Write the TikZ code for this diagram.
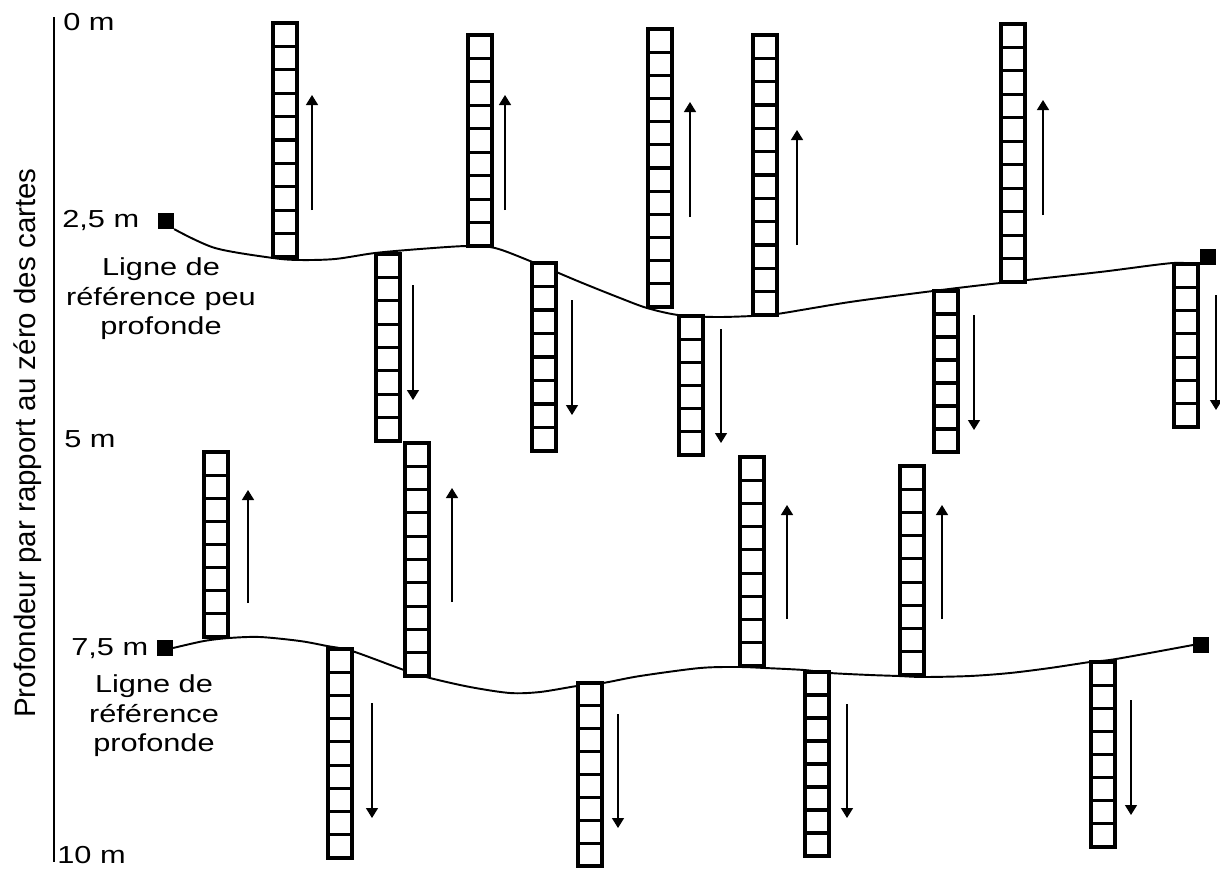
\documentclass[tikz,border=0pt]{standalone}
\usepackage{fontspec}
\usepackage{graphicx}
\setmainfont{Liberation Sans}
\usetikzlibrary{arrows.meta}
\newcommand{\wide}[1]{\scalebox{1.25}[1]{#1}}

\begin{document}
\begin{tikzpicture}[
  x=0.02cm, y=-0.02cm,
  lbl/.style      ={font=\fontsize{14pt}{16.8pt}\selectfont, inner sep=0pt},
  note/.style     ={lbl, align=center},
  endpt/.style    ={fill=black, inner sep=0pt, minimum size=0.31cm},
  refline/.style  ={line width=1.1pt},
  ladderbox/.style={line width=1.8pt, fill=white},
  rung/.style     ={line width=1.8pt},
  flow/.style     ={-{Triangle[length=2mm, width=2.4mm]}, line width=0.8pt}]

\useasboundingbox (0,0) rectangle (1220,869);

\draw[line width=1.3pt] (54,17) -- (54,862);
\node[rotate=90, anchor=base, inner sep=0pt,
      font=\fontsize{16.8pt}{20pt}\selectfont] (axis) at (35,443)
  {Profondeur par rapport au zéro des cartes};

\node[lbl, anchor=base west] (d0)  at (63,30)  {\wide{0 m}};
\node[lbl, anchor=base west] (d25) at (62,227) {\wide{2,5 m}};
\node[lbl, anchor=base west] (d5)  at (64,447) {\wide{5 m}};
\node[lbl, anchor=base west] (d75) at (71,655) {\wide{7,5 m}};
\node[lbl, anchor=base west] (d10) at (57,863) {\wide{10 m}};

\node[note] (shallow) at (161,299)
  {\wide{Ligne de}\\\wide{référence peu}\\\wide{profonde}};
\node[note] (deep)    at (154,716)
  {\wide{Ligne de}\\\wide{référence}\\\wide{profonde}};

\node[endpt] (sA) at (166,221) {};
\node[endpt] (sB) at (1208,257) {};
\node[endpt] (dA) at (165,648) {};
\node[endpt] (dB) at (1201,645) {};

\draw[refline] plot[smooth] coordinates {(sA.south east) (215,248)
  (273,258) (300,260) (335,259) (375,253) (420,249) (467,246) (495,248)
  (530,261) (580,282) (620,298) (647,308) (678,315) (715,317) (752,316)
  (777,314) (850,302) (933,291) (1000,283) (1100,272) (1173,263) (sB.south west)};
\draw[refline] plot[smooth] coordinates {(dA.east) (204,641) (229,638)
  (260,637) (300,641) (327,646) (352,651) (404,670) (430,678) (470,687)
  (510,693) (540,692) (577,686) (603,683) (640,676) (700,668) (739,667)
  (765,668) (804,670) (830,673) (870,675) (899,676) (924,677) (970,676)
  (1010,673) (1050,668) (1090,662) (1116,659) (dB.west)};

\foreach \lx/\lt/\lb/\ln in {273/23/257/10, 468/35/246/9, 648/29/307/12,
    753/35/315/12, 1001/24/282/11, 376/254/441/8, 532/263/451/8,
    679/316/455/6, 934/291/452/7, 1174/264/427/7, 204/452/637/8,
    405/443/676/10, 740/457/666/9, 900/466/675/9, 328/649/858/9,
    578/683/866/8, 805/672/856/8, 1091/662/847/8} {
  \draw[ladderbox] (\lx,\lt) rectangle (\lx+24,\lb);
  \pgfmathtruncatemacro\lm{\ln-1}
  \foreach \k in {1,...,\lm}
    \draw[rung] (\lx,{\lt+\k*(\lb-\lt)/\ln}) -- (\lx+24,{\lt+\k*(\lb-\lt)/\ln});
}

\foreach \ax/\ay/\az in {312/210/95, 505/210/95, 690/217/102, 797/245/130,
    1043/215/100, 248/603/490, 452/602/488, 787/619/505, 942/619/505,
    413/285/400, 572/300/415, 721/329/443, 974/315/430, 1216/295/410,
    372/703/818, 618/714/828, 847/704/818, 1131/700/815}
  \draw[flow] (\ax,\ay) -- (\ax,\az);
\end{tikzpicture}
\end{document}
